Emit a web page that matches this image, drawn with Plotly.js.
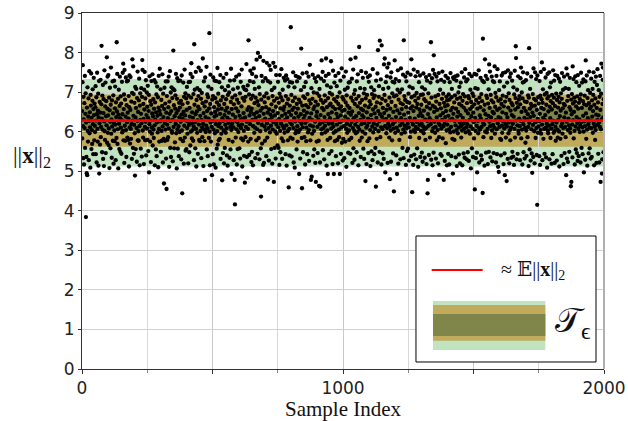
<!DOCTYPE html>
<html><head><meta charset="utf-8">
<script src="https://cdn.plot.ly/plotly-3.0.1.min.js"></script>
<style>html,body{margin:0;padding:0;background:#fff}#chart{width:628px;height:421px}</style>
</head><body><div id="chart"></div>
<script>
// ||x||_2 per sample, samples 0-499
const normsA = [
6.52,5.83,7.25,7.68,6.14,5.33,6.88,6.31,5.17,6.72,6.09,7.41,5.59,6.45,6.97,3.84,6.23,5.36,4.95,6.61,4.90,7.12,6.02,5.75,6.38,
6.84,5.28,6.27,7.53,5.96,6.49,6.11,5.09,6.93,6.66,7.47,5.56,6.35,6.04,5.69,6.78,7.07,6.19,5.43,6.57,7.36,6.42,5.78,6.71,6.15,
5.99,6.62,7.15,5.43,6.28,6.87,5.22,6.44,7.49,6.07,5.75,6.53,6.96,5.14,6.36,7.28,4.94,6.21,6.75,5.67,6.48,7.31,5.86,6.12,6.69,
8.17,6.33,5.48,6.91,6.05,7.18,5.31,6.47,6.82,5.13,6.26,7.55,6.01,5.79,6.64,7.24,5.46,6.39,6.77,6.16,7.88,5.72,6.58,7.39,5.97,
6.41,7.43,5.66,6.08,6.86,5.08,6.54,7.11,6.25,5.58,6.68,7.62,5.95,6.31,5.34,6.79,6.13,7.27,5.77,6.46,6.92,5.19,6.22,7.29,6.03,
5.76,6.59,7.14,6.18,5.28,6.74,6.37,5.84,8.26,6.51,7.46,5.69,6.06,6.83,5.07,6.43,7.06,6.20,5.56,6.65,7.39,6.34,5.49,6.89,6.10,
6.71,5.44,6.29,7.26,5.98,6.44,7.49,6.02,7.72,5.78,6.57,6.94,5.21,7.56,6.15,6.81,5.77,6.38,7.37,6.04,5.36,6.67,7.27,6.24,5.85,
6.48,7.29,5.79,6.33,6.90,5.12,6.62,7.42,6.11,5.70,6.55,7.38,6.07,5.82,6.76,6.19,5.31,6.98,7.83,6.28,5.59,7.65,6.40,6.95,5.44,
6.17,6.73,5.96,4.89,7.13,6.36,5.56,6.60,7.08,6.09,5.24,6.85,6.27,7.52,5.78,6.50,6.01,5.77,6.79,7.34,6.14,5.15,6.66,6.97,6.30,
5.57,6.45,7.10,6.21,5.37,6.88,7.81,7.56,6.03,5.85,6.70,6.32,5.18,7.06,6.56,7.51,6.12,5.78,6.84,6.25,7.30,5.40,6.42,6.99,6.08,
6.63,5.79,7.16,6.35,5.51,6.52,6.93,4.97,6.19,7.40,6.00,5.75,6.77,6.28,5.23,6.68,7.28,6.11,5.95,6.46,7.45,5.65,6.39,6.82,6.05,
5.84,6.58,7.30,6.16,5.15,6.74,6.31,7.24,5.55,6.49,6.94,5.38,6.23,7.14,6.40,5.98,6.87,5.10,6.61,7.41,6.07,5.75,6.53,7.59,6.26,
6.44,7.07,5.49,6.29,6.80,6.02,5.77,6.65,7.45,6.13,5.22,6.96,6.37,5.82,4.69,6.57,7.11,6.22,5.77,6.71,6.05,7.27,5.32,6.48,4.55,
6.90,6.18,5.79,7.27,6.34,5.86,6.62,7.39,6.08,5.11,6.76,6.45,7.53,5.59,6.27,6.99,5.36,6.52,7.12,6.01,5.97,6.85,6.30,5.25,7.08,
8.05,6.12,6.67,5.58,7.05,6.39,5.73,6.58,6.92,6.20,7.46,5.96,6.47,5.07,6.83,7.35,6.06,5.57,6.54,7.28,6.14,5.38,6.73,6.36,5.99,
6.61,7.29,5.82,6.25,6.78,5.30,6.43,7.42,6.03,4.44,6.69,6.32,5.76,7.24,6.50,5.19,6.88,6.15,7.57,5.85,6.41,6.97,5.52,6.28,6.84,
5.56,6.55,7.13,6.09,5.95,6.73,6.26,5.20,6.91,7.25,6.17,5.48,6.60,6.38,7.26,5.65,7.46,6.00,6.86,7.73,6.21,5.83,6.49,7.38,6.04,
6.35,5.77,6.95,6.13,5.28,8.21,6.68,7.06,6.24,5.58,6.44,7.51,6.07,5.12,6.80,6.51,5.97,7.10,6.29,5.44,6.63,6.90,7.62,6.18,5.79,
6.57,7.05,5.76,6.40,6.02,7.54,6.83,5.33,6.30,6.98,6.11,5.86,6.72,7.85,6.20,5.13,6.47,7.27,6.05,5.76,6.64,4.78,7.37,6.37,5.99,
6.76,6.15,7.64,5.55,6.52,6.94,6.08,5.38,6.87,7.14,6.33,5.84,6.59,8.49,6.00,5.15,6.70,7.44,6.23,5.75,6.46,7.08,6.12,4.90,6.81
];
// samples 500-999
const normsB = [
6.27,5.43,6.90,7.37,6.05,5.17,6.62,6.38,7.29,5.96,6.50,6.85,5.09,6.19,7.28,6.41,5.57,6.74,6.01,7.61,5.67,6.56,6.96,6.14,5.78,
6.67,7.25,6.21,5.82,6.45,7.43,5.31,6.79,6.10,5.95,6.58,7.12,4.77,6.34,6.88,5.46,6.27,7.36,6.03,5.20,6.70,6.42,5.59,7.05,6.17,
6.53,5.97,6.82,7.46,6.08,5.40,6.61,6.35,5.14,6.93,7.15,6.22,5.79,6.48,6.99,5.34,6.30,7.29,6.12,5.55,6.75,7.59,6.04,4.93,6.57,
6.20,6.86,5.75,6.43,7.07,6.11,5.28,6.69,7.30,6.28,4.78,4.16,6.92,6.37,5.85,6.59,7.39,6.06,5.17,6.81,6.24,5.56,7.11,6.51,5.99,
6.73,6.16,7.44,5.58,6.40,6.97,5.32,6.29,7.26,6.09,5.83,6.64,7.57,6.18,5.12,6.85,6.33,5.78,7.13,6.47,6.02,5.39,6.78,7.07,4.71,
6.36,5.86,6.88,6.12,7.05,7.71,6.25,5.36,4.84,6.55,7.17,6.07,5.75,8.31,6.62,6.94,5.41,6.41,7.28,6.19,7.54,5.82,6.50,6.83,5.23,
6.58,5.49,7.46,6.30,6.91,5.15,6.14,7.25,7.60,6.44,5.97,6.72,7.08,6.10,5.33,6.86,6.35,7.39,5.78,7.82,6.49,6.06,6.77,5.44,7.99,
6.22,6.67,5.84,7.12,6.39,5.30,6.95,7.89,6.01,6.53,5.58,4.36,6.81,7.41,6.17,5.70,6.60,6.28,7.27,5.16,7.79,6.45,5.21,6.89,6.13,
6.74,5.77,6.33,7.35,6.04,6.62,5.38,6.97,7.74,6.21,5.85,6.48,7.28,4.79,6.85,6.09,5.27,6.56,7.67,6.30,5.98,7.24,6.43,7.56,6.15,
5.56,6.69,7.05,6.37,5.19,6.90,6.05,6.52,7.74,6.24,4.73,6.78,7.11,5.59,6.41,7.64,6.00,5.32,6.63,7.43,6.18,5.95,6.84,6.27,5.65,
6.47,7.26,6.11,5.59,6.73,6.32,5.16,6.96,7.43,6.02,5.48,6.59,6.87,6.20,7.58,5.83,6.40,5.31,6.79,7.06,6.14,5.76,6.55,7.36,6.08,
6.63,5.97,6.29,7.29,6.45,5.43,6.90,7.42,6.16,5.14,6.71,6.36,7.33,6.01,5.78,6.82,7.14,4.59,6.50,6.07,5.40,6.66,7.25,6.23,5.85,
8.64,6.42,6.93,5.37,6.18,7.24,6.55,5.82,6.77,7.50,6.09,5.22,6.61,6.34,7.12,5.09,6.86,6.26,5.96,7.41,6.47,6.03,5.55,6.70,7.27,
6.14,5.75,6.58,7.38,6.38,5.99,6.81,4.93,6.27,7.36,6.05,5.32,6.74,6.44,7.05,8.10,6.20,5.84,4.57,6.66,7.47,6.11,5.48,6.89,6.32,
6.53,7.13,5.86,6.40,6.85,5.17,6.22,7.25,6.67,5.76,6.10,7.49,6.48,5.43,6.95,6.28,5.98,6.62,7.39,6.04,5.26,6.79,6.35,7.69,6.16,
5.78,6.71,4.78,6.46,7.10,4.86,6.30,5.95,6.83,7.44,6.13,5.39,6.57,6.99,6.02,5.55,6.64,7.35,6.25,5.21,6.76,4.73,7.26,6.39,5.75,
6.50,6.97,6.12,5.46,6.68,7.40,6.31,5.77,4.63,6.90,7.08,6.19,5.22,4.61,6.42,6.80,7.34,6.06,7.80,5.95,6.60,6.24,7.51,5.53,6.73,
6.09,6.55,7.28,5.30,6.37,6.92,6.15,5.98,6.78,7.41,7.85,6.27,5.14,6.62,7.17,6.03,5.79,4.93,6.85,6.44,7.46,6.20,5.44,6.67,6.98,
6.34,5.84,6.71,7.12,7.78,6.08,5.51,6.49,6.94,6.21,5.18,6.63,7.54,6.13,5.97,4.93,6.82,7.24,6.29,5.76,6.57,7.41,6.01,5.38,6.76,
6.45,7.15,6.18,5.79,6.88,6.36,5.20,6.70,7.48,6.05,5.86,6.59,6.99,4.93,6.24,7.29,6.41,5.44,6.64,6.11,7.60,5.72,6.52,6.87,5.27
];
// samples 1000-1499
const normsC = [
6.28,5.82,6.81,7.39,6.14,5.33,6.55,7.06,6.38,5.75,6.74,7.52,6.07,5.11,6.92,6.20,5.97,6.66,7.11,6.31,5.47,6.48,7.24,6.03,5.79,
6.60,7.25,6.16,5.44,7.83,6.43,6.86,5.84,6.25,7.34,6.51,5.21,6.78,6.09,7.57,5.58,6.34,6.95,6.02,5.29,6.70,7.05,6.18,7.87,5.96,
6.39,6.83,5.48,7.27,6.27,5.99,6.64,7.45,6.12,5.15,6.90,6.47,8.14,6.05,5.77,6.73,7.10,6.30,5.36,6.58,7.53,6.19,5.85,6.80,6.41,
6.00,7.36,6.54,5.57,6.37,6.97,5.31,6.22,7.08,6.66,5.95,4.75,6.84,7.49,6.10,5.18,6.49,6.93,6.15,5.76,7.38,6.33,5.46,6.62,7.26,
6.24,5.83,6.77,7.42,6.04,5.13,6.69,6.42,7.12,5.50,6.30,6.95,6.13,5.28,7.58,6.56,5.98,6.85,6.20,7.05,5.43,6.46,6.91,6.07,5.59,
6.63,4.61,7.29,6.35,5.82,6.74,6.17,7.47,5.22,8.06,6.52,6.01,6.88,7.15,6.26,5.49,8.30,6.44,5.86,6.71,7.32,6.11,5.17,8.18,6.38,
6.83,6.06,5.45,6.60,7.08,6.29,5.31,7.70,6.47,6.93,7.85,6.14,4.97,6.78,7.25,6.32,5.96,6.55,7.40,6.09,7.62,5.21,6.67,6.20,7.11,
7.72,6.40,5.85,6.86,6.13,4.80,6.58,7.37,6.03,5.24,7.50,6.75,6.31,5.78,6.97,7.26,6.19,5.45,6.50,6.08,4.49,6.89,7.24,7.80,6.25,
5.97,6.65,7.33,6.37,5.40,6.92,6.10,4.93,6.54,7.06,7.55,6.02,5.19,6.81,6.28,7.28,5.79,6.46,6.99,6.16,5.30,6.72,7.60,6.34,5.95,
6.57,7.07,6.22,5.59,6.69,7.44,6.05,5.33,8.31,6.43,6.90,6.15,5.98,6.80,7.39,6.30,5.16,6.62,7.27,6.09,5.51,6.75,7.49,6.20,5.57,
6.48,6.96,6.11,5.27,6.73,7.14,6.35,5.86,6.59,7.44,6.00,5.38,7.83,6.87,6.26,4.47,6.64,7.10,6.18,5.16,6.52,7.57,6.04,5.42,6.91,
6.33,5.99,6.78,7.40,6.12,5.30,6.61,6.98,6.24,5.58,6.70,7.51,6.07,5.11,6.85,6.40,7.25,5.84,6.56,6.17,7.42,5.36,6.47,6.93,6.02,
6.68,6.21,5.47,7.12,6.39,5.24,6.94,6.13,7.47,5.96,6.53,6.82,6.06,5.34,7.07,6.31,5.79,6.77,7.38,6.10,5.18,6.63,7.29,6.27,4.44,
4.78,6.44,6.97,6.15,5.41,6.72,7.43,6.34,5.85,6.58,7.24,6.19,8.26,5.29,6.86,6.28,7.35,6.01,5.15,6.66,7.56,6.09,5.47,7.93,6.50,
6.25,7.46,6.62,5.97,6.89,6.12,5.32,6.76,7.39,6.36,5.78,6.55,7.27,6.04,5.20,6.93,6.22,7.48,5.86,4.90,6.70,6.17,7.06,6.41,5.43,
6.59,7.31,6.08,5.39,6.83,6.30,7.52,5.83,6.47,6.96,6.14,4.78,6.73,7.26,6.20,5.26,6.64,6.37,7.41,5.71,6.52,6.88,6.03,5.15,6.79,
6.18,6.67,7.35,5.44,6.40,6.94,6.06,5.17,6.81,7.25,6.29,5.98,7.48,6.54,6.12,5.38,6.87,7.08,6.33,5.82,6.61,4.94,7.37,6.45,6.00,
7.33,6.74,5.79,6.27,6.92,7.40,6.16,5.35,6.58,7.29,6.04,5.13,6.83,6.38,7.42,5.96,6.50,6.99,6.10,5.42,6.70,7.13,6.23,5.20,6.86,
6.42,7.24,6.14,5.85,6.66,7.50,6.03,5.15,6.78,6.35,6.95,6.20,5.45,6.61,7.37,6.08,5.34,6.89,7.58,6.26,5.98,6.53,7.27,6.11,5.30,
6.72,6.19,7.32,5.48,6.46,6.90,6.01,5.26,6.84,7.46,6.30,5.95,6.57,7.06,6.13,5.07,6.75,6.39,7.40,5.58,6.63,6.97,6.07,5.36,6.48
];
// samples 1500-1999
const normsD = [
6.90,6.24,5.83,6.69,7.46,4.54,6.35,7.10,6.02,5.33,6.80,7.44,6.15,5.47,4.97,6.58,7.08,6.27,5.96,6.73,7.55,6.09,5.22,6.86,6.41,
6.05,6.62,7.36,6.33,5.40,6.95,6.12,5.29,6.77,7.29,4.45,8.35,6.22,5.86,6.54,7.25,6.18,5.14,6.68,7.83,6.00,6.44,7.41,5.47,6.91,
6.30,5.98,6.85,7.33,6.07,5.18,6.71,6.40,7.07,5.49,7.70,6.25,6.60,7.52,6.14,5.35,6.93,6.36,5.84,6.79,7.39,6.03,5.25,6.50,7.28,
6.17,6.74,5.46,6.46,7.25,6.10,7.65,5.95,6.63,6.98,6.29,5.22,6.87,7.41,6.06,5.43,6.55,7.58,6.21,5.11,6.78,6.37,4.98,7.05,6.12,
6.59,7.27,5.82,6.34,6.82,5.40,5.79,6.70,7.42,6.15,5.97,6.49,6.91,7.48,6.26,5.18,6.64,7.14,6.08,5.45,4.90,6.76,7.50,6.19,5.85,
6.45,6.88,4.75,6.13,7.24,6.36,5.31,7.55,6.61,5.96,6.97,6.23,5.20,6.80,7.38,6.04,5.78,6.53,7.47,6.11,5.34,6.72,6.42,7.29,5.49,
6.67,6.20,5.37,7.12,6.38,5.16,6.94,6.07,7.54,5.85,6.56,6.85,8.16,7.86,6.28,5.30,6.73,7.06,6.16,5.44,6.62,7.40,6.02,5.95,6.81,
6.33,6.90,6.14,5.28,6.69,7.35,6.27,7.62,5.83,6.50,6.99,6.05,5.17,6.84,7.24,7.50,6.19,5.48,6.60,7.26,6.35,5.32,6.76,6.10,5.72,
6.52,7.30,6.03,5.39,6.75,6.31,7.47,5.86,6.44,6.92,6.12,5.13,6.86,8.11,6.22,5.55,6.58,7.08,6.37,5.27,6.70,7.39,6.06,5.45,6.64,
4.96,6.48,6.95,6.17,5.36,7.60,6.40,6.83,6.01,5.20,6.66,7.50,6.24,5.84,6.79,7.33,6.09,5.41,6.55,4.15,7.42,6.32,5.97,6.87,6.13,
6.71,6.26,5.38,7.28,6.45,5.16,6.91,6.04,7.51,5.95,6.60,6.82,7.75,6.18,5.28,6.73,7.07,6.35,5.82,6.57,7.58,6.07,5.44,6.94,6.29,
6.42,7.37,6.10,5.35,6.68,6.98,6.20,5.09,6.84,7.46,6.03,5.96,6.51,6.89,6.15,7.50,5.30,6.63,7.12,6.34,5.84,6.77,7.24,6.08,5.19,
6.56,6.93,6.19,5.43,6.72,7.55,6.27,5.97,6.86,7.29,6.01,5.21,6.65,7.43,6.12,5.77,6.47,6.96,6.23,5.27,6.80,7.41,6.05,5.85,6.61,
6.30,6.88,7.34,6.00,5.12,6.74,6.39,7.26,5.82,6.53,6.97,6.14,5.39,6.83,7.48,6.21,5.95,6.59,7.06,6.09,5.18,6.70,7.39,6.36,5.46,
6.67,6.12,7.10,5.86,6.48,4.90,7.60,6.25,5.32,6.78,7.44,6.04,5.23,6.90,6.33,7.08,6.16,5.49,6.62,7.36,6.08,5.97,6.55,4.62,6.81,
4.73,6.44,6.95,6.18,5.35,7.65,6.71,6.29,7.33,5.83,6.50,6.86,6.02,5.17,6.76,7.40,6.13,5.55,6.64,7.25,6.37,5.46,6.89,6.22,5.26,
7.43,6.58,6.07,5.38,6.73,7.16,6.31,5.99,6.82,6.15,5.22,6.94,7.49,6.24,5.59,6.60,7.24,6.11,5.43,6.77,6.40,7.32,6.00,4.97,6.69,
6.26,6.91,6.14,5.29,7.27,7.80,6.46,5.82,6.67,7.42,6.05,5.14,6.85,6.34,7.05,6.19,5.45,6.72,7.52,6.10,5.58,6.58,6.98,6.28,5.32,
6.63,7.34,6.09,5.36,6.79,6.38,7.08,5.97,6.52,6.93,7.50,6.20,5.15,6.68,7.26,6.13,5.79,6.84,6.04,7.39,6.43,5.21,6.60,7.18,6.30,
7.58,6.17,6.74,5.44,6.41,7.05,6.23,5.22,6.88,6.12,7.41,6.55,4.73,6.06,6.96,7.72,6.31,4.94,5.30,6.70,7.31,7.62,6.36,5.48,6.82
];
const meanNorm = 6.28;            // red line, ≈ E||x||_2
const bandOuter  = [5.12, 7.33];  // light green band
const bandMiddle = [5.62, 6.94];  // tan band
const bandInner  = [5.98, 6.63];  // dark olive band
const xRange = [0, 2000];
const yRange = [0, 9];
const xTickVals = [0, 500, 1000, 1500, 2000];
const xTickText = ['0', '', '1000', '', '2000'];
const yTickVals = [0, 1, 2, 3, 4, 5, 6, 7, 8, 9];

const cGreen = '#c0e4c0', cTan = '#c0aa5c', cOlive = '#80854a';

const norms = normsA.concat(normsB, normsC, normsD);
const sampleIdx = norms.map((_, i) => i);

const traces = [
  {type: 'scatter', mode: 'markers', x: sampleIdx, y: norms,
   marker: {color: '#000', size: 4.3}, hoverinfo: 'skip', cliponaxis: true},
  {type: 'scatter', mode: 'lines', x: xRange, y: [meanNorm, meanNorm],
   line: {color: '#ff0000', width: 2.6}, hoverinfo: 'skip'}
];

function band(lohi, color) {
  return {type: 'rect', layer: 'below', xref: 'paper', yref: 'y', x0: 0, x1: 1,
          y0: lohi[0], y1: lohi[1], fillcolor: color, line: {width: 0}};
}
const L = {x0: 0.6398, x1: 0.9847, y0: 0.0197, y1: 0.3736};
function legPatch(y0, y1, color) {
  return {type: 'rect', layer: 'above', xref: 'paper', yref: 'paper', x0: 0.6724, x1: 0.8876,
          y0: y0, y1: y1, fillcolor: color, line: {width: 0}};
}
const shapes = [
  band(bandOuter, cGreen), band(bandMiddle, cTan), band(bandInner, cOlive),
  {type: 'line', layer: 'above', xref: 'paper', yref: 'paper', x0: 1, x1: 1, y0: 0, y1: 1,
   line: {color: '#b0b0b0', width: 2}},
  {type: 'rect', layer: 'above', xref: 'paper', yref: 'paper', x0: L.x0, x1: L.x1, y0: L.y0, y1: L.y1,
   fillcolor: '#ffffff', line: {color: '#000', width: 1}},
  {type: 'line', layer: 'above', xref: 'paper', yref: 'paper', x0: 0.6699, x1: 0.7676, y0: 0.278, y1: 0.278,
   line: {color: '#ff0000', width: 2}},
  legPatch(0.0534, 0.191, cGreen), legPatch(0.0795, 0.1798, cTan), legPatch(0.0927, 0.1545, cOlive)
];

const serif = '"Liberation Serif", "DejaVu Serif", serif';
const annotations = [
  {xref: 'paper', yref: 'paper', x: -0.096, y: 0.5955, showarrow: false, xanchor: 'center', yanchor: 'middle',
   text: '||<b>x</b>||<sub>2</sub>', font: {family: serif, size: 23, color: '#111'}},
  {xref: 'paper', yref: 'paper', x: 0.7989, y: 0.278, showarrow: false, xanchor: 'left', yanchor: 'middle',
   text: '≈ 𝔼||<b>x</b>||<sub>2</sub>', font: {family: serif, size: 20, color: '#111'}},
  {xref: 'paper', yref: 'paper', x: 0.903, y: 0.128, showarrow: false, xanchor: 'left', yanchor: 'middle',
   text: '𝒯<sub>ϵ</sub>', font: {family: serif, size: 34, color: '#111'}}
];

const tickFont = {family: '"DejaVu Sans", sans-serif', size: 17, color: '#222'};
const layout = {
  width: 628, height: 421,
  margin: {l: 82, r: 24, t: 13, b: 52, pad: 0},
  paper_bgcolor: '#fff', plot_bgcolor: '#fff',
  showlegend: false,
  xaxis: {
    range: xRange, tickvals: xTickVals, ticktext: xTickText,
    ticks: 'outside', ticklen: 4, tickcolor: '#333', tickfont: tickFont,
    showgrid: true, gridcolor: '#c8c8c8', gridwidth: 1,
    minor: {dtick: 250, showgrid: true, gridcolor: '#d8d8d8', gridwidth: 1, ticks: 'outside', ticklen: 3, tickcolor: '#888'},
    showline: true, linecolor: '#333', linewidth: 1, mirror: true, zeroline: false,
    title: {text: 'Sample Index', font: {family: serif, size: 21, color: '#111'}, standoff: 6}
  },
  yaxis: {
    range: yRange, tickvals: yTickVals,
    ticks: 'outside', ticklen: 3, tickcolor: '#333', tickfont: tickFont,
    showgrid: true, gridcolor: '#d0d0d0', gridwidth: 1,
    showline: true, linecolor: '#333', linewidth: 1, zeroline: false
  },
  shapes: shapes,
  annotations: annotations
};
Plotly.newPlot('chart', traces, layout, {staticPlot: true, displayModeBar: false});
</script></body></html>
